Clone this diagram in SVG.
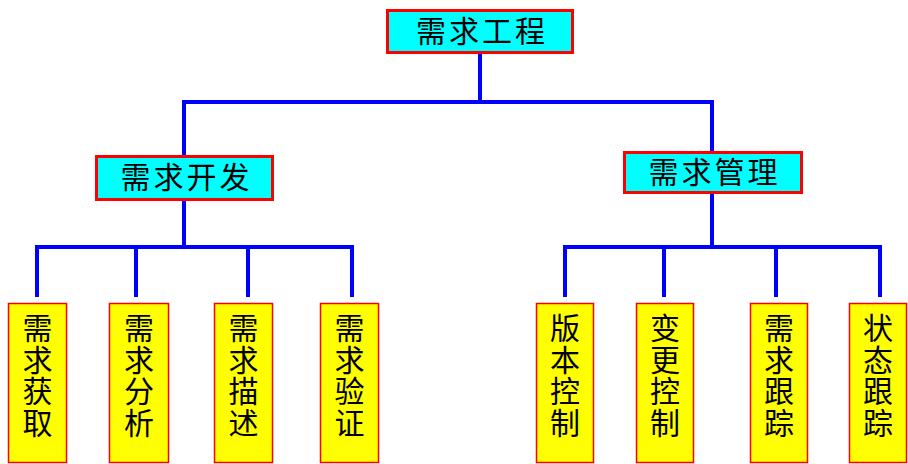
<svg xmlns="http://www.w3.org/2000/svg" width="908" height="464" viewBox="0 0 908 464">
<style>
.top{fill:#00FFFF;stroke:#FF0000;stroke-width:3}
.leaf{fill:#FFFF00;stroke:#FF0000;stroke-width:1.5}
.t{font-family:"Noto Sans CJK SC","Noto Sans CJK TC",sans-serif;font-size:30px;fill:#000;text-anchor:middle}
.c{fill:none;stroke:#0000FF;stroke-width:4;stroke-linecap:square;stroke-linejoin:miter}
</style>
<rect width="908" height="464" fill="#FFFFFF"/>
<g id="connectors">
<path class="c" d="M480 56V102M184 157V102H712V151"/>
<path class="c" d="M184 203V247M37 295V247H352V295M136 247V295M248 247V295"/>
<path class="c" d="M712 196V247M565 295V247H880V295M664 247V295M776 247V295"/>
</g>
<g id="n-root"><rect class="top" x="387.5" y="10.5" width="185" height="42"/><text class="t" x="431 464 497 530" y="42">需求工程</text></g>
<g id="n-dev"><rect class="top" x="96.5" y="156.5" width="176" height="43"/><text class="t" x="135.5 168.5 201.5 234.5" y="187.5">需求开发</text></g>
<g id="n-mgmt"><rect class="top" x="624.5" y="152.5" width="177" height="40"/><text class="t" x="663.5 696.5 729.5 762.5" y="183">需求管理</text></g>
<g id="n-l1"><rect class="leaf" x="8.5" y="303.5" width="58" height="159"/><text class="t" x="37.5 37.5 37.5 37.5" y="339 371 402 433.5">需求获取</text></g>
<g id="n-l2"><rect class="leaf" x="109.5" y="303.5" width="59" height="159"/><text class="t" x="139 139 139 139" y="339 371 402 433.5">需求分析</text></g>
<g id="n-l3"><rect class="leaf" x="214.5" y="303.5" width="58" height="159"/><text class="t" x="243.5 243.5 243.5 243.5" y="339 371 402 433.5">需求描述</text></g>
<g id="n-l4"><rect class="leaf" x="320.5" y="303.5" width="58" height="159"/><text class="t" x="349.5 349.5 349.5 349.5" y="339 371 402 433.5">需求验证</text></g>
<g id="n-l5"><rect class="leaf" x="536.5" y="303.5" width="57" height="159"/><text class="t" x="565 565 565 565" y="339 371 402 433.5">版本控制</text></g>
<g id="n-l6"><rect class="leaf" x="636.5" y="303.5" width="57" height="159"/><text class="t" x="665 665 665 665" y="339 371 402 433.5">变更控制</text></g>
<g id="n-l7"><rect class="leaf" x="750.5" y="303.5" width="57" height="159"/><text class="t" x="779 779 779 779" y="339 371 402 433.5">需求跟踪</text></g>
<g id="n-l8"><rect class="leaf" x="849.5" y="303.5" width="57" height="159"/><text class="t" x="878 878 878 878" y="339 371 402 433.5">状态跟踪</text></g>
</svg>
